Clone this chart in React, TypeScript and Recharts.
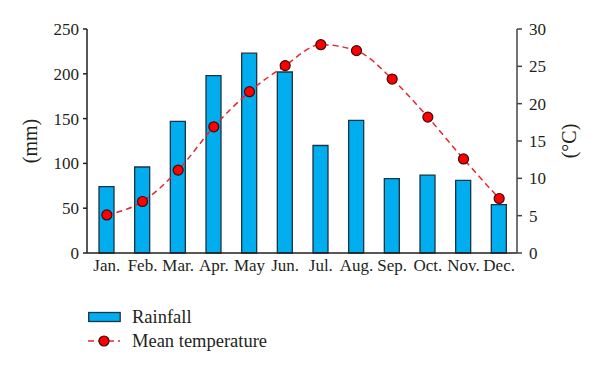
import { ComposedChart, Bar, Line, XAxis, YAxis } from 'recharts';

const months = ['Jan.', 'Feb.', 'Mar.', 'Apr.', 'May', 'Jun.', 'Jul.', 'Aug.', 'Sep.', 'Oct.', 'Nov.', 'Dec.'];
const rainfall = [74, 96, 147, 198, 223, 202, 120, 148, 83, 87, 81, 54];
const temperature = [5.1, 6.9, 11.1, 16.9, 21.6, 25.1, 27.9, 27.1, 23.3, 18.2, 12.6, 7.3];
const rainTicks = [0, 50, 100, 150, 200, 250];
const tempTicks = [0, 5, 10, 15, 20, 25, 30];

const data = months.map((m, i) => ({
  month: m,
  rainfall: rainfall[i],
  temperature: temperature[i],
}));

const font = '"Liberation Serif", "DejaVu Serif", serif';
const ink = '#231f20';

const SideLabel = (props: any) => {
  const { viewBox, value, dx } = props;
  const cx = viewBox.x + dx;
  const cy = viewBox.y + viewBox.height / 2;
  return (
    <text
      x={cx}
      y={cy}
      transform={`rotate(-90 ${cx} ${cy})`}
      textAnchor="middle"
      dominantBaseline="central"
      fill={ink}
      fontSize={20}
      fontFamily={font}
    >
      {value}
    </text>
  );
};

const App = () => {
  return (
    <div style={{ position: 'absolute', left: 0, top: 0, width: 600, height: 372, fontFamily: font, background: '#fff' }}>
      <ComposedChart width={600} height={372} data={data} margin={{ top: 29, right: 0, bottom: 89, left: 0 }}>
        <XAxis
          dataKey="month"
          tickLine={false}
          tickSize={0}
          tickMargin={6}
          padding={{ left: 2, right: 0 }}
          height={30}
          axisLine={{ stroke: ink, strokeWidth: 1.5 }}
          tick={{ fill: ink, fontSize: 17, fontFamily: font }}
          interval={0}
        />
        <YAxis
          yAxisId="rain"
          width={87}
          domain={[0, 250]}
          ticks={rainTicks}
          tickSize={4}
          tickMargin={4}
          axisLine={{ stroke: ink, strokeWidth: 1.5 }}
          tickLine={{ stroke: ink, strokeWidth: 1.5 }}
          tick={{ fill: ink, fontSize: 17, fontFamily: font }}
          label={<SideLabel value="(mm)" dx={30} />}
        />
        <YAxis
          yAxisId="temp"
          orientation="right"
          width={83}
          domain={[0, 30]}
          ticks={tempTicks}
          tickSize={5}
          tickMargin={7}
          axisLine={{ stroke: '#444', strokeWidth: 1.5 }}
          tickLine={{ stroke: '#444', strokeWidth: 1.5 }}
          tick={{ fill: ink, fontSize: 17, fontFamily: font, textAnchor: 'start' }}
          label={<SideLabel value="(°C)" dx={52} />}
        />
        <Bar
          yAxisId="rain"
          dataKey="rainfall"
          barSize={15}
          fill="#00adef"
          stroke="#1c3443"
          strokeWidth={1.3}
          isAnimationActive={false}
        />
        <Line
          yAxisId="temp"
          type="monotone"
          dataKey="temperature"
          stroke="#e8262b"
          strokeWidth={1.5}
          strokeDasharray="6 4"
          dot={{ r: 5, fill: '#ff0000', stroke: '#3a0a0a', strokeWidth: 1.2, strokeDasharray: '0' }}
          isAnimationActive={false}
        />
      </ComposedChart>
      <div style={{ position: 'absolute', left: 88, top: 305, fontSize: 18.5, color: ink, lineHeight: '24px' }}>
        <div style={{ display: 'flex', alignItems: 'center', height: 24 }}>
          <svg width={33} height={12} style={{ marginRight: 11 }}>
            <rect x={0.7} y={1.5} width={31.5} height={9} fill="#00adef" stroke="#1c3443" strokeWidth={1.3} />
          </svg>
          <span>Rainfall</span>
        </div>
        <div style={{ display: 'flex', alignItems: 'center', height: 24 }}>
          <svg width={33} height={12} style={{ marginRight: 11 }}>
            <line x1={0} y1={6} x2={32} y2={6} stroke="#e8262b" strokeWidth={1.5} strokeDasharray="6 4" />
            <circle cx={16} cy={6} r={5} fill="#ff0000" stroke="#3a0a0a" strokeWidth={1.2} />
          </svg>
          <span>Mean temperature</span>
        </div>
      </div>
    </div>
  );
};

export default App;
